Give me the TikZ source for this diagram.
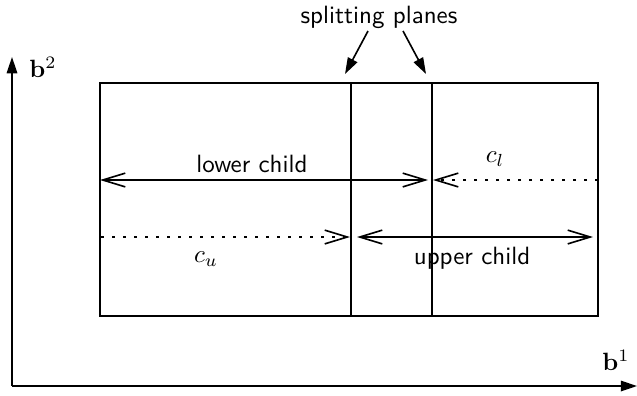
\documentclass[tikz,border=0pt]{standalone}
\usetikzlibrary{arrows.meta}
\begin{document}
\begin{tikzpicture}[x=0.4pt,y=-0.4pt,line width=0.65pt,
  lbl/.style={inner sep=0pt,font=\sffamily},
  openhead/.style={-{Straight Barb[length=9pt,width=5.5pt]}},
  openboth/.style={{Straight Barb[length=9pt,width=5.5pt]}-{Straight Barb[length=9pt,width=5.5pt]}},
  filledhead/.style={-{Triangle[length=6.5pt,width=4.2pt]}},
  dotline/.style={dash pattern=on 1.1pt off 3.3pt}]
\useasboundingbox (0,0) rectangle (637,395);
% axes
\coordinate (O) at (12,386);
\coordinate (Ytip) at (12,57);
\coordinate (Xtip) at (637,386);
\draw[filledhead] (O) -- (Ytip);
\draw[filledhead] (O) -- (Xtip);
\node[inner sep=0pt] (b2) at (43,67) {$\mathbf{b}^2$};
\node[inner sep=0pt] (b1) at (616,360) {$\mathbf{b}^1$};
% box
\coordinate (R1) at (100,83);
\coordinate (R2) at (598,316);
\draw (R1) rectangle (R2);
\coordinate (P1t) at (351,83); \coordinate (P1b) at (351,316);
\coordinate (P2t) at (432,83); \coordinate (P2b) at (432,316);
\draw (P1t) -- (P1b);
\draw (P2t) -- (P2b);
% splitting planes label
\node[lbl] (sp) at (379,17) {splitting planes};
\coordinate (s1) at (368,31); \coordinate (e1) at (345,74);
\coordinate (s2) at (403,31); \coordinate (e2) at (426,74);
\draw[filledhead] (s1) -- (e1);
\draw[filledhead] (s2) -- (e2);
% lower child
\coordinate (L1) at (100,180); \coordinate (L2) at (428,180);
\draw[openboth] (L1) -- (L2);
\node[lbl] (lc) at (252,164) {lower child};
\coordinate (cl1) at (598,180); \coordinate (cl2) at (433,180);
\draw[dotline,openhead] (cl1) -- (cl2);
\node[inner sep=0pt] (cl) at (495,159) {$c_l$};
% upper child
\coordinate (cu1) at (101,237); \coordinate (cu2) at (350,237);
\draw[dotline,openhead] (cu1) -- (cu2);
\node[inner sep=0pt] (cu) at (206,259) {$c_u$};
\coordinate (U1) at (357,237); \coordinate (U2) at (593,237);
\draw[openboth] (U1) -- (U2);
\node[lbl] (uc) at (472,258) {upper child};
\end{tikzpicture}
\end{document}
